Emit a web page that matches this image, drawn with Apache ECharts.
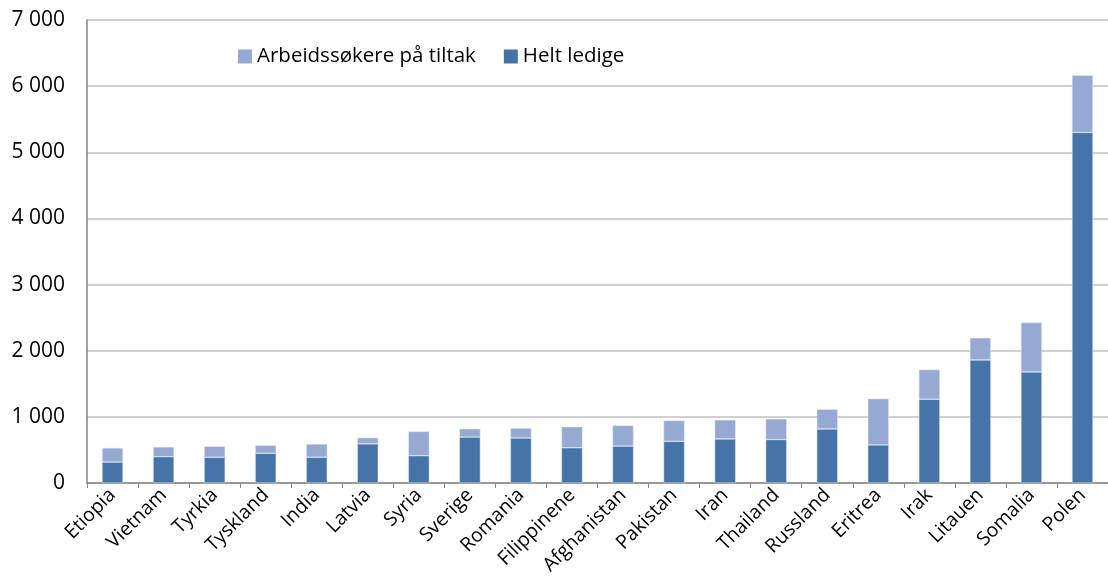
<!DOCTYPE html>
<html>
<head>
<meta charset="utf-8">
<script src="https://cdn.jsdelivr.net/npm/echarts@6/dist/echarts.min.js"></script>
<style>
  html, body { margin: 0; padding: 0; background: #fff; }
  #chart { width: 1108px; height: 587px; }
</style>
</head>
<body>
<div id="chart"></div>
<script>
const countries = ["Etiopia", "Vietnam", "Tyrkia", "Tyskland", "India", "Latvia", "Syria", "Sverige", "Romania", "Filippinene",
  "Afghanistan", "Pakistan", "Iran", "Thailand", "Russland", "Eritrea", "Irak", "Litauen", "Somalia", "Polen"];
// Helt ledige
const heltLedige = [316, 398, 390, 450, 390, 592, 413, 694, 680, 533, 558, 631, 667, 657, 818, 576, 1267, 1861, 1680, 5300];
// Arbeidssøkere på tiltak
const paTiltak = [214, 147, 165, 120, 200, 93, 367, 126, 150, 317, 312, 314, 288, 313, 297, 699, 448, 334, 745, 865];

const font = "'Open Sans', 'Liberation Sans', sans-serif";
const chart = echarts.init(document.getElementById("chart"));

chart.setOption({
  animation: false,
  legend: {
    left: 233,
    top: 41,
    itemWidth: 14,
    itemHeight: 14,
    itemGap: 28,
    icon: "rect",
    itemStyle: { borderWidth: 0 },
    textStyle: { fontFamily: font, fontSize: 20.5, color: "#000" },
    data: ["Arbeidssøkere på tiltak", "Helt ledige"],
  },
  grid: { left: 87, right: 0, top: 20, bottom: 104 },
  xAxis: {
    type: "category",
    data: countries,
    axisLine: { lineStyle: { color: "#868686", width: 1.5 } },
    axisTick: { show: true, length: 5, lineStyle: { color: "#868686" } },
    axisLabel: {
      rotate: 45,
      margin: 9,
      fontFamily: font,
      fontSize: 19.5,
      color: "#000",
      interval: 0,
    },
  },
  yAxis: {
    type: "value",
    min: 0,
    max: 7000,
    interval: 1000,
    axisLine: { show: true, lineStyle: { color: "#868686", width: 1.5 } },
    axisTick: { show: false },
    splitLine: { lineStyle: { color: "#c0c0c0", width: 1.5 } },
    axisLabel: {
      margin: 22,
      fontFamily: font,
      fontSize: 21,
      color: "#000",
      formatter: (v) => String(v).replace(/\B(?=(\d{3})+(?!\d))/g, " "),
    },
  },
  series: [
    {
      name: "Helt ledige",
      type: "bar",
      stack: "total",
      data: heltLedige,
      barWidth: 21,
      itemStyle: { color: "#4674a8", borderColor: "#dfe6f0", borderWidth: 0.5 },
    },
    {
      name: "Arbeidssøkere på tiltak",
      type: "bar",
      stack: "total",
      data: paTiltak,
      barWidth: 21,
      itemStyle: { color: "#95a9d2", borderColor: "#e4eaf4", borderWidth: 0.5 },
    },
  ],
});
</script>
</body>
</html>
